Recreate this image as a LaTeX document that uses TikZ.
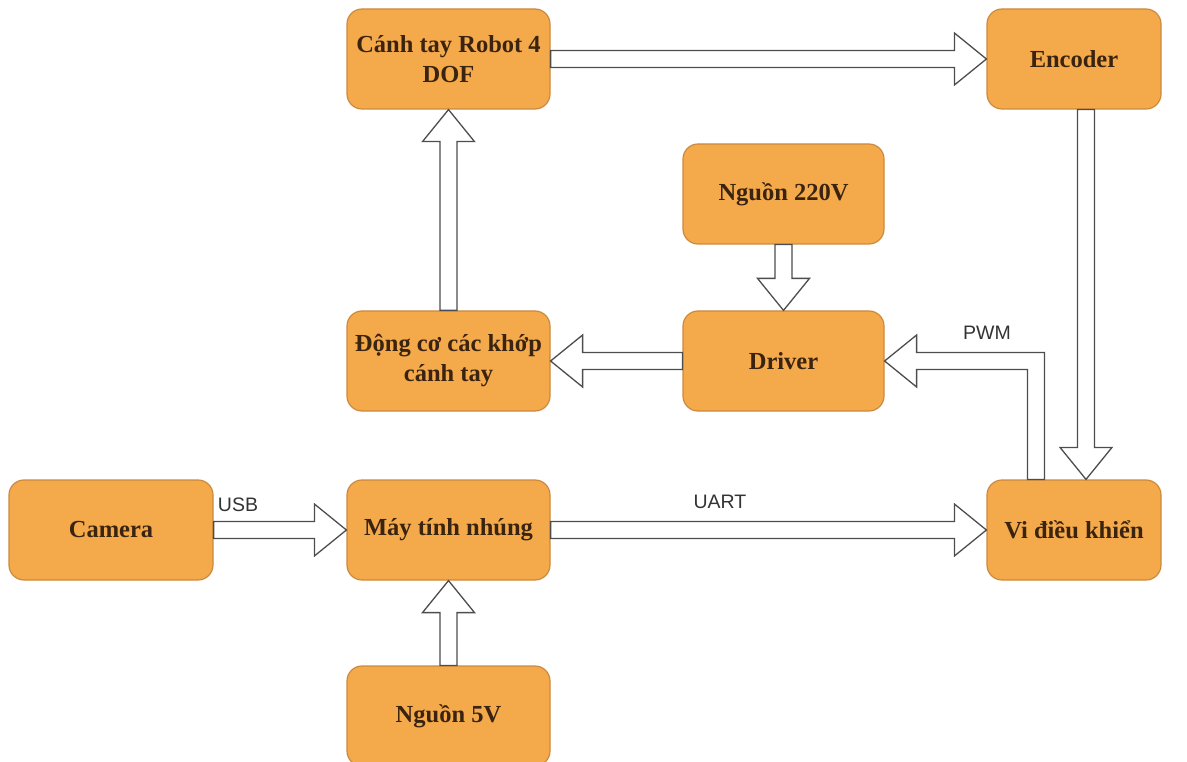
\documentclass[tikz,border=0pt]{standalone}
\usepackage{fontspec}
\setmainfont{Liberation Serif}
\newfontfamily\labelfont{Liberation Sans}
\usetikzlibrary{calc}

\definecolor{boxfill}{HTML}{F4A94B}
\definecolor{boxline}{HTML}{CC8A3E}
\definecolor{boxtext}{HTML}{3A2410}
\definecolor{arrline}{HTML}{4D4D4D}
\definecolor{lbltext}{HTML}{333333}

\tikzset{
  blk/.style={rounded corners=15pt, draw=boxline, line width=1.2pt, fill=boxfill,
    minimum height=100pt, align=center, inner sep=2pt, text=boxtext,
    font=\fontsize{24.5}{30}\selectfont\bfseries},
  wide/.style={blk, minimum width=203pt},
  narrow/.style={blk, minimum width=174pt},
  hollow/.style={draw=arrline, fill=white, line width=1.3pt, line join=miter},
  lbl/.style={font=\labelfont\fontsize{19.5}{22}\selectfont, text=lbltext, inner sep=0pt}
}

% hollow block arrow from #1 to #2 (shaft 17pt, head 52pt wide, 32pt long)
\newcommand\blockarrow[2]{%
  \draw[hollow] let \p1=($(#2)-(#1)$), \n1={veclen(\x1,\y1)}, \n2={atan2(\y1,\x1)} in
    [shift={(#1)}, rotate=\n2]
    (0pt,-8.5pt) -- (\n1-32pt,-8.5pt) -- (\n1-32pt,-26pt) -- (\n1,0pt)
    -- (\n1-32pt,26pt) -- (\n1-32pt,8.5pt) -- (0pt,8.5pt) -- cycle;
}

\begin{document}
\begin{tikzpicture}[x=1pt,y=-1pt]
\useasboundingbox (0,0) rectangle (1187,762);

% blocks
\node[wide]   (arm)  at (448.5,59)  {Cánh tay Robot 4\\DOF};
\node[narrow] (enc)  at (1074,59)   {Encoder};
\node[wide, minimum width=201pt] (p220) at (783.5,194) {Nguồn 220V};
\node[wide]   (mot)  at (448.5,361) {Động cơ các khớp\\cánh tay};
\node[wide, minimum width=201pt] (drv)  at (783.5,361) {Driver};
\node[wide, minimum width=204pt] (cam)  at (111,530)   {Camera};
\node[wide]   (pc)   at (448.5,530) {Máy tính nhúng};
\node[narrow] (mcu)  at (1074,530)  {Vi điều khiển};
\node[wide]   (p5)   at (448.5,716) {Nguồn 5V};

% straight connectors
\blockarrow{arm.east}{enc.west}
\blockarrow{$(enc.south)+(12,0)$}{$(mcu.north)+(12,0)$}
\blockarrow{p220.south}{drv.north}
\blockarrow{drv.west}{mot.east}
\blockarrow{mot.north}{arm.south}
\blockarrow{cam.east}{pc.west}
\blockarrow{pc.east}{mcu.west}
\blockarrow{p5.north}{pc.south}

% PWM connector: up from the controller, then left into the driver
\draw[hollow] let \p1=(drv.east), \p2=($(mcu.north)+(-38,0)$) in
  (\x2-8.5pt,\y2) -- (\x2-8.5pt,\y1-8.5pt) -- (\x1+32pt,\y1-8.5pt)
  -- (\x1+32pt,\y1-26pt) -- (\x1,\y1) -- (\x1+32pt,\y1+26pt)
  -- (\x1+32pt,\y1+8.5pt) -- (\x2+8.5pt,\y1+8.5pt) -- (\x2+8.5pt,\y2) -- cycle;

% connector labels
\node[lbl] (usb)  at (238,505) {USB};
\node[lbl] (uart) at (720,502) {UART};
\node[lbl] (pwm)  at (987,333) {PWM};
\end{tikzpicture}
\end{document}
